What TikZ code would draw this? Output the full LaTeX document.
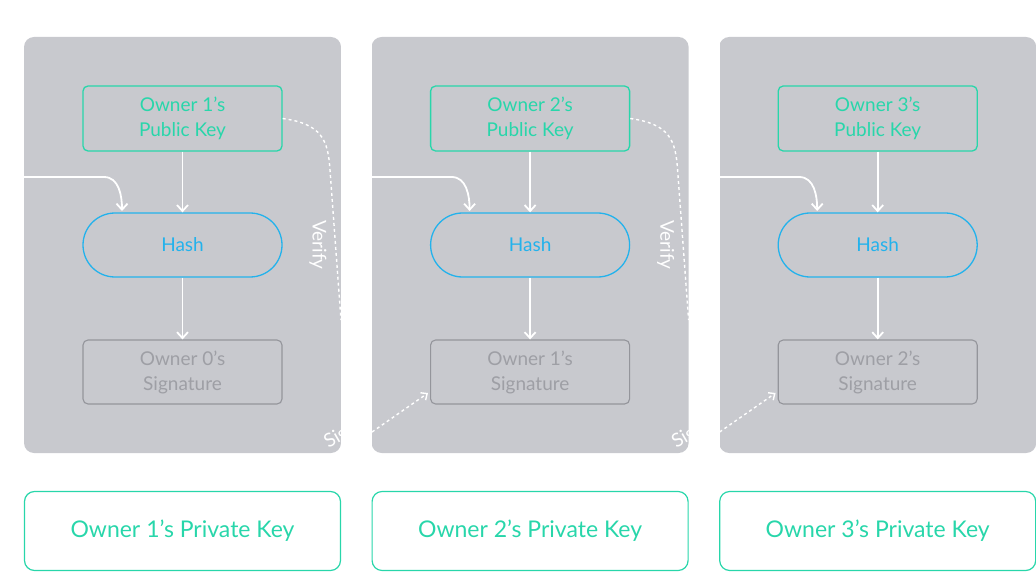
\documentclass[tikz,border=0pt]{standalone}
\usepackage{fontspec}
\setmainfont{Lato}
\usetikzlibrary{arrows.meta}
\definecolor{pan}{RGB}{200,201,206}
\definecolor{teal}{RGB}{40,214,170}
\definecolor{sky}{RGB}{35,178,236}
\definecolor{gbox}{RGB}{148,149,155}
\definecolor{gtxt}{RGB}{158,159,165}
\begin{document}
\begin{tikzpicture}[x=1pt,y=-1pt,
  panel/.style={fill=pan,rounded corners=10pt},
  key/.style={draw=teal,line width=1.3pt,rounded corners=5pt,minimum width=199pt,minimum height=65pt,text=teal,align=center,font=\fontsize{19}{25}\selectfont},
  hash/.style={draw=sky,line width=1.3pt,rounded corners=32pt,minimum width=199pt,minimum height=64pt,text=sky,font=\fontsize{19}{22}\selectfont},
  sig/.style={draw=gbox,line width=1.1pt,rounded corners=5pt,minimum width=199pt,minimum height=64pt,text=gtxt,align=center,font=\fontsize{19}{25}\selectfont},
  priv/.style={draw=teal,line width=1.2pt,rounded corners=10pt,minimum width=316pt,minimum height=79pt,text=teal,font=\fontsize{23}{26}\selectfont},
  wa/.style={white,line width=1.8pt,-{Straight Barb[length=6pt,width=11pt]}},
  wd/.style={white,line width=1.4pt,dash pattern=on 3pt off 3pt},
  lab/.style={white,font=\fontsize{19}{22}\selectfont}]
\useasboundingbox (0,0) rectangle (1036,572);
\foreach \i/\p/\q in {0/1/0,1/2/1,2/3/2}{
  \begin{scope}[xshift=\i*347.6pt]
  \fill[panel] (24,37) rectangle (341,453);
  \node[key] (pk\i) at (182.5,118.5) {Owner \p's\\Public Key};
  \node[hash] (h\i) at (182.5,245) {Hash};
  \node[sig] (s\i) at (182.5,372) {Owner \q's\\Signature};
  \node[priv] (pr\i) at (182.5,531) {Owner \p's Private Key};
  \coordinate (in\i) at (24,177);
  \coordinate (ht\i) at (122,211);
  \draw[wa] (pk\i) -- (h\i);
  \draw[wa] (h\i) -- (s\i);
  \draw[wa] (in\i) -- (104,177) to[out=0,in=90] (ht\i);
  \end{scope}}
\foreach \i in {0,1}{
  \begin{scope}[xshift=\i*347.6pt]
  \coordinate (ve\i) at (341,320);
  \draw[wd] (pk\i.east) .. controls (322,124) and (328,140) .. (330,170) -- (ve\i);
  \node[lab,rotate=-90] (vl\i) at (318,245) {Verify};
  \end{scope}}
\begin{scope}
  \clip (24,37) rectangle (341,453) (371,37) rectangle (688.6,453);
  \node[lab,rotate=30,anchor=west] (sl0) at (323,446) {Sign};
  \node[lab,rotate=30,anchor=west] (sl1) at (670.6,446) {Sign};
\end{scope}
\fill[white] (341,0) rectangle (372,480);
\fill[white] (688.6,0) rectangle (719.6,480);
\coordinate (sa0) at (372,432);
\coordinate (sb0) at (428,393);
\coordinate (sa1) at (719.6,432);
\coordinate (sb1) at (775.6,393);
\draw[wd,-{Straight Barb[length=5pt,width=9pt]}] (sa0) -- (sb0);
\draw[wd,-{Straight Barb[length=5pt,width=9pt]}] (sa1) -- (sb1);
\end{tikzpicture}
\end{document}
